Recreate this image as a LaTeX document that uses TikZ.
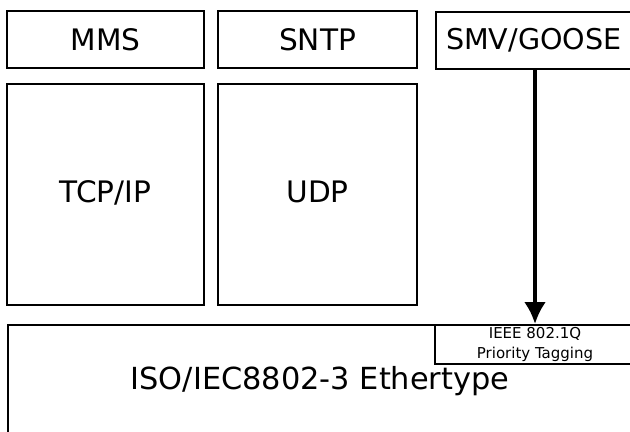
\documentclass[tikz,border=0pt]{standalone}
\usepackage{fontspec}
\setmainfont{DejaVu Sans}
\usetikzlibrary{arrows.meta}
\begin{document}
\begin{tikzpicture}[x=0.5pt, y=-0.5pt,
    layer/.style={draw, line width=1pt, inner sep=0pt, font=\fontsize{14.8}{17}\selectfont},
    flow/.style={line width=2pt, -{Latex[length=11pt, width=11pt]}}]
        
        % Frame
        \useasboundingbox (0,0) rectangle (630,432);
        \clip (0,0) rectangle (630,432);
        
        % Application layer
        \node[layer, minimum width=98.5pt, minimum height=28.5pt] (mms) at (105.5,39.5) {MMS};
        \node[layer, minimum width=99.5pt, minimum height=28.5pt] (sntp) at (317.5,39.5) {SNTP};
        \node[layer, anchor=west, minimum height=28.5pt, text width=95pt, inner xsep=5pt, align=left, font=\fontsize{14.3}{17}\selectfont] (smv) at (435,40.5) {SMV/GOOSE};
        
        % Transport layer
        \node[layer, minimum width=98.5pt, minimum height=110.5pt] (tcp) at (105.5,194.5) {\raisebox{3pt}{TCP/IP}};
        \node[layer, minimum width=99.5pt, minimum height=110.5pt] (udp) at (317.5,194.5) {\raisebox{3pt}{UDP}};
        
        % Link layer
        \node[layer, minimum width=312pt, minimum height=56pt, font=\fontsize{15.2}{18}\selectfont] (eth) at (320,381) {ISO/IEC8802-3 Ethertype};
        \node[layer, fill=white, minimum width=100pt, minimum height=19.5pt, align=center, font=\fontsize{7.5}{10}\selectfont] (ieee) at (535,344.5) {IEEE 802.1Q\\Priority Tagging};
        
        % Mapping
        \draw[flow] (smv.south -| ieee.north) -- (ieee.north);
        
    \end{tikzpicture}
\end{document}
